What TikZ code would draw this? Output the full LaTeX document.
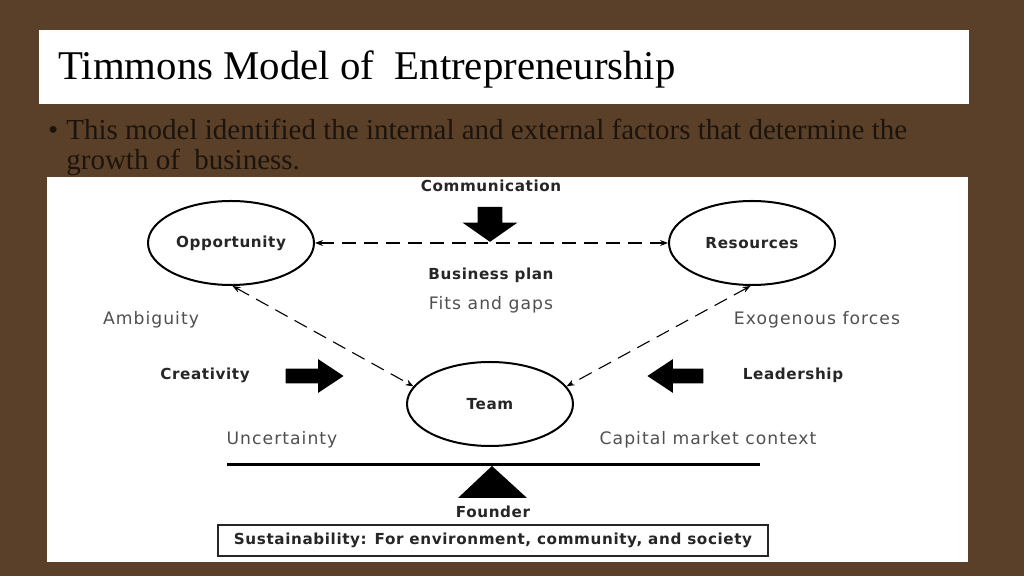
\documentclass[tikz,border=0pt]{standalone}
\usepackage{fontspec}
\usetikzlibrary{shapes.geometric,shapes.arrows,arrows.meta}
\setmainfont{Liberation Serif}
\newfontfamily\dglight[LetterSpace=6]{DejaVu Sans}
\newfontfamily\dgheavy[LetterSpace=4]{DejaVu Sans}
\definecolor{marble}{RGB}{90,64,40}
\definecolor{bulletink}{RGB}{28,20,12}
\definecolor{softink}{RGB}{80,80,80}

\tikzset{
	hub/.style={draw, line width=1pt, ellipse, minimum width=83pt, minimum height=42pt, inner sep=0pt, font=\dgheavy\bfseries\fontsize{7.6}{9}\selectfont, text=black!85},
	link/.style={dash pattern=on 7pt off 4pt, line width=0.55pt, {Stealth[length=4pt,width=3pt]}-{Stealth[length=4pt,width=3pt]}},
	force/.style={font=\dgheavy\bfseries\fontsize{7.6}{9}\selectfont, text=black!85},
	factor/.style={font=\dglight\fontsize{8.6}{10}\selectfont, text=softink},
	push/.style={single arrow, fill=black, draw=none, single arrow head indent=0pt}
}

\begin{document}
\begin{tikzpicture}[x=0.5pt,y=-0.5pt]
\fill[marble] (0,0) rectangle (1024,576);
\fill[white] (39,30) rectangle (969,104);
\node[anchor=base west, inner sep=0pt, font=\fontsize{20.4}{24}\selectfont] (title) at (58,80) {Timmons Model of\ \ Entrepreneurship};
\node[anchor=base west, inner sep=0pt, text=bulletink, font=\fontsize{14.5}{16}\selectfont] (point) at (66,140) {\llap{\textbullet\hspace{4pt}}This model identified the internal and external factors that determine the};
\node[anchor=base west, inner sep=0pt, text=bulletink, font=\fontsize{14.5}{16}\selectfont] (pointb) at (66,170) {growth of\ \ business.};
\fill[white] (47,177) rectangle (968,562);

\node[hub] (opp) at (231,243) {Opportunity};
\node[hub] (res) at (752,243) {Resources};
\node[hub] (team) at (490,404) {Team};
\draw[link] (opp) -- (res);
\draw[link] (opp.-88) -- (team.167);
\draw[link] (res.-92) -- (team.13);

\node[force] (comm) at (491,186) {Communication};
\node[push, inner sep=6pt, minimum height=17.5pt, minimum width=27pt, single arrow head extend=7.5pt, single arrow tip angle=110, shape border rotate=270] (commarrow) at (490,220) {};
\node[force] (plan) at (491,275) {Business plan};
\node[factor] (fits) at (491,305) {Fits and gaps};

\node[factor] (ambig) at (151,320) {Ambiguity};
\node[factor] (exo) at (817,320) {Exogenous forces};
\node[force] (creat) at (205,375) {Creativity};
\node[push, inner sep=3.5pt, minimum height=29pt, minimum width=16.5pt, single arrow head extend=4.75pt, single arrow tip angle=67] (creatarrow) at (309,376) {};
\node[push, inner sep=3.5pt, minimum height=28pt, minimum width=16.5pt, single arrow head extend=4.75pt, single arrow tip angle=67, shape border rotate=180] (leadarrow) at (681,376) {};
\node[force] (lead) at (793,375) {Leadership};
\node[factor] (uncert) at (282,440) {Uncertainty};
\node[factor] (capital) at (708,440) {Capital market context};

\draw[line width=1.5pt] (227,465) -- (760,465);
\fill (492,466) -- (527,498) -- (458,498) -- cycle;
\node[force] (founder) at (493,512) {Founder};
\node[force, draw=black!85, line width=1pt, minimum width=275pt, minimum height=15.5pt] (sustain) at (493,540.5) {Sustainability: For environment, community, and society};
\end{tikzpicture}
\end{document}
